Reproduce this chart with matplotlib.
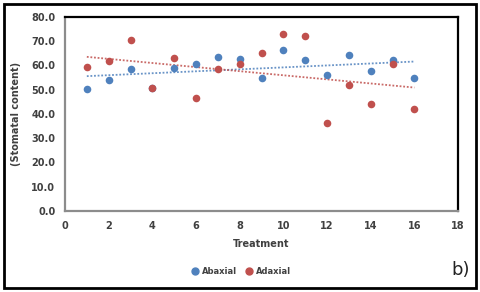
import numpy as np
import matplotlib
matplotlib.use("Agg")
import matplotlib.pyplot as plt
from matplotlib.patches import Rectangle
from matplotlib.lines import Line2D

treatment = [1, 2, 3, 4, 5, 6, 7, 8, 9, 10, 11, 12, 13, 14, 15, 16]
abaxial = [50.5, 53.9, 58.4, 50.7, 59.0, 60.8, 63.4, 62.8, 54.9, 66.3, 62.4, 56.0, 64.2, 57.6, 62.1, 54.9]
adaxial = [59.4, 61.9, 70.4, 50.7, 63.1, 46.6, 58.7, 60.6, 65.1, 72.8, 72.0, 36.1, 51.9, 44.0, 60.5, 42.0]
xticks = [0, 2, 4, 6, 8, 10, 12, 14, 16, 18]
yticks = [0, 10, 20, 30, 40, 50, 60, 70, 80]

blue = "#4F81BD"
red = "#C0504D"
tc = "#404040"

fig = plt.figure(figsize=(4.8, 2.92), dpi=100)
fig.patch.set_facecolor("white")
ax = fig.add_axes([65/480, 1-211/292, (458-65)/480, (211-17)/292])

x = np.array(treatment, dtype=float)
for vals, col in [(abaxial, blue), (adaxial, red)]:
    ax.scatter(x, vals, s=30, color=col, zorder=3, linewidths=0)
for vals, col in [(abaxial, blue), (adaxial, red)]:
    p = np.polyfit(x, vals, 1)
    xx = np.array([x.min(), x.max()])
    ax.plot(xx, np.polyval(p, xx), linestyle=(0, (1, 1)), color=col, lw=1.3, alpha=0.85, zorder=2)

ax.set_xlim(0, 18)
ax.set_ylim(0, 80)
ax.set_xticks(xticks)
ax.set_yticks(yticks)
ax.set_yticklabels([f"{v:.1f}" for v in yticks])
ax.tick_params(length=0, labelsize=7, labelcolor=tc, pad=7)
for lab in ax.get_xticklabels() + ax.get_yticklabels():
    lab.set_fontweight("bold")
for s in ["top", "right"]:
    ax.spines[s].set_color("black")
    ax.spines[s].set_linewidth(1.6)
for s in ["left", "bottom"]:
    ax.spines[s].set_color("#8C8C8C")
    ax.spines[s].set_linewidth(1.6)

ax.set_xlabel("Treatment", fontsize=7, fontweight="bold", color=tc, labelpad=6)
ax.set_ylabel("(Stomatal content)", fontsize=7, fontweight="bold", color=tc, labelpad=7)

handles = [Line2D([], [], marker="o", linestyle="none", color=blue, markersize=5, label="Abaxial"),
           Line2D([], [], marker="o", linestyle="none", color=red, markersize=5, label="Adaxial")]
leg = fig.legend(handles=handles, loc="center", bbox_to_anchor=(241/480, 1-271/292), ncol=2,
                 frameon=False, fontsize=6, handletextpad=0.3, columnspacing=1.0, handlelength=1)
for t in leg.get_texts():
    t.set_fontweight("bold")
    t.set_color(tc)

fig.text(470/480, 1-270/292, "b)", fontsize=13, ha="right", va="center", color="#222222")

fig.patches.append(Rectangle((4/480, 1-288/292), 472/480, 284/292, transform=fig.transFigure,
                             fill=False, edgecolor="black", linewidth=2))

fig.savefig("out.png", dpi=100)
